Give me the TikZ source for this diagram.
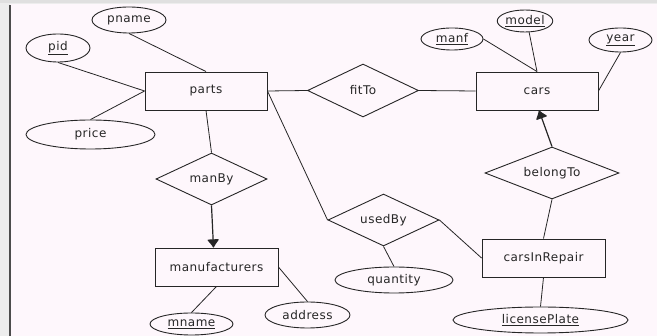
\documentclass[tikz,border=0pt]{standalone}
\usepackage{fontspec}
\setmainfont[LetterSpace=4]{DejaVu Sans}
\usetikzlibrary{shapes.geometric,arrows.meta}
\begin{document}
\begin{tikzpicture}[x=1pt,y=-1pt,
  every node/.style={font=\fontsize{12}{14}\selectfont, text=black!85},
  ent/.style={draw=black!85, line width=0.9pt, rectangle, minimum width=122pt, minimum height=38pt, inner sep=0pt},
  attr/.style={draw=black!85, line width=0.9pt, ellipse, inner sep=0pt},
  rel/.style={draw=black!85, line width=0.9pt, diamond, inner sep=0pt, aspect=2.1},
  conn/.style={draw=black!85, line width=0.8pt},
  isa/.style={conn, line width=1.2pt, -{Latex[length=9pt,width=13pt,round]}}
]
\useasboundingbox (0,0) rectangle (657,336);
\fill[black!7] (0,0) rectangle (657,336);
\fill[white!97!magenta] (10,4) rectangle (657,336);
\fill[black!12] (0,0) rectangle (657,3.5);
\draw[black!70, line width=1.6pt] (10,5) -- (10,336);

% entities
\node[ent] (parts) at (206,91) {parts};
\node[ent] (cars) at (537,91) {cars};
\node[ent, minimum width=123pt] (manufacturers) at (216.5,267) {manufacturers};
\node[ent, minimum width=123pt] (carsInRepair) at (543.5,258) {carsInRepair};

% relationships
\node[rel, minimum width=111pt, minimum height=53pt] (fitTo) at (363,90.5) {fitTo};
\node[rel, minimum width=111pt, minimum height=52pt] (manBy) at (211.5,179) {manBy};
\node[rel, minimum width=111pt, minimum height=52pt] (usedBy) at (383.5,220) {usedBy};
\node[rel, aspect=2.6, minimum width=134pt, minimum height=52pt] (belongTo) at (552,173) {belongTo};

% attributes
\node[attr, minimum width=74pt, minimum height=26pt] (pname) at (129,20) {pname};
\node[attr, minimum width=64pt, minimum height=28pt] (pid) at (58,48) {\underline{pid}};
\node[attr, minimum width=129pt, minimum height=29pt] (price) at (90.5,134.5) {price};
\node[attr, minimum width=62pt, minimum height=22pt] (manf) at (452,39) {\underline{manf}};
\node[attr, minimum width=54pt, minimum height=22pt] (model) at (525,21) {\underline{model}};
\node[attr, minimum width=63pt, minimum height=24pt] (year) at (620.5,40) {\underline{year}};
\node[attr, minimum width=175pt, minimum height=26pt] (licensePlate) at (540.5,320) {\underline{licensePlate}};
\node[attr, minimum width=118pt, minimum height=26pt] (quantity) at (394,280) {quantity};
\node[attr, minimum width=83pt, minimum height=22pt] (mname) at (191.5,324) {\underline{mname}};
\node[attr, minimum width=85pt, minimum height=26pt] (address) at (307.5,315) {address};

% connectors
\draw[conn] (pname.south) -- (parts.north);
\draw[conn] (pid.south) -- (parts.west);
\draw[conn] (price.north) -- (parts.west);
\draw[conn] (parts.south) -- (manBy.north);
\draw[isa] (manBy.south) -- ([xshift=-3pt]manufacturers.north);
\draw[conn] (manufacturers.south) -- (mname.north);
\draw[conn] (manufacturers.east) -- (address.north);
\draw[conn] (parts.east) -- (fitTo.west);
\draw[conn] (fitTo.east) -- (cars.west);
\draw[conn] (parts.east) -- (usedBy.west);
\draw[conn] (usedBy.east) -- (carsInRepair.west);
\draw[conn] (usedBy.south) -- (quantity.north);
\draw[isa] (belongTo.north) -- ([xshift=2pt]cars.south);
\draw[conn] (belongTo.south) -- (carsInRepair.north);
\draw[conn] (carsInRepair.south) -- (licensePlate.north);
\draw[conn] (manf.east) -- (cars.north);
\draw[conn] (model.290) -- (cars.north);
\draw[conn] (year.south) -- (cars.east);
\end{tikzpicture}
\end{document}
